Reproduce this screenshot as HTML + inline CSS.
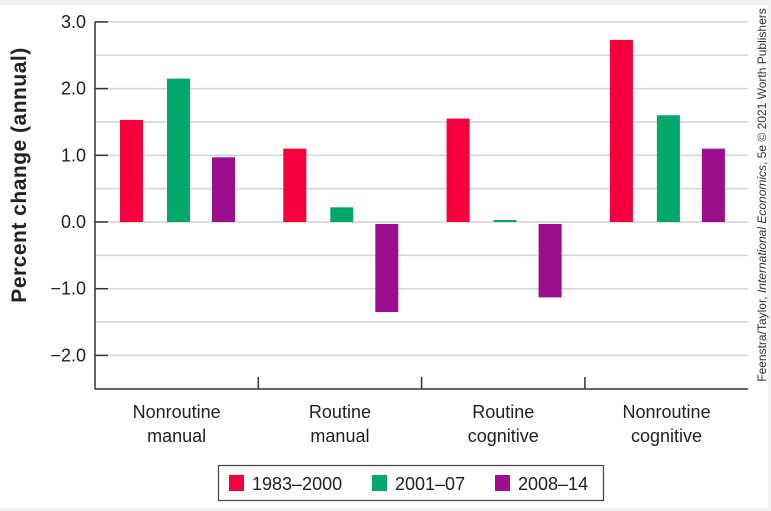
<!DOCTYPE html>
<html><head><meta charset="utf-8"><style>
html,body{margin:0;padding:0;background:#fff;}
svg{display:block;font-family:"Liberation Sans",sans-serif;}
</style></head><body>
<svg width="771" height="511" viewBox="0 0 771 511">
<rect x="0" y="0" width="771" height="511" fill="#f1f1f1"/>
<rect x="0" y="5" width="768" height="503" fill="#fff"/>
<g id="grid"></g>
<g id="yticks"></g>
<g id="bars"></g>
<line x1="95" y1="22" x2="95" y2="389.5" stroke="#333" stroke-width="1.5"/>
<line x1="95" y1="389" x2="748" y2="389" stroke="#333" stroke-width="1.5"/>
<g id="xlabels"></g>
<text transform="translate(26,175) rotate(-90)" text-anchor="middle" font-size="21" font-weight="bold" letter-spacing="0.5" fill="#222">Percent change (annual)</text>
<text transform="translate(766,195) rotate(-90)" text-anchor="middle" font-size="12" fill="#333">Feenstra/Taylor, <tspan font-style="italic">International Economics</tspan>, 5e © 2021 Worth Publishers</text>
<g>
<rect x="218.5" y="465.5" width="385" height="35" fill="#fff" stroke="#444" stroke-width="1.2"/>
<rect x="229" y="475" width="15" height="16" fill="#f5003d"/>
<text x="252" y="490" font-size="18" fill="#222">1983–2000</text>
<rect x="372" y="475" width="15" height="16" fill="#00a86b"/>
<text x="395" y="490" font-size="18" fill="#222">2001–07</text>
<rect x="495" y="475" width="15" height="16" fill="#9b0f8e"/>
<text x="518" y="490" font-size="18" fill="#222">2008–14</text>
</g>
</svg>
<script>
const categories1 = ["Nonroutine","Routine","Routine","Nonroutine"];
const categories2 = ["manual","manual","cognitive","cognitive"];
const series1983 = [1.53, 1.10, 1.55, 2.73];
const series2001 = [2.15, 0.22, 0.03, 1.60];
const series2008 = [0.97, -1.35, -1.13, 1.10];
const yTicks = [3, 2, 1, 0, -1, -2];
const yTickLabels = ["3.0","2.0","1.0","0.0","\u22121.0","\u22122.0"];
const gridVals = [3, 2.5, 2, 1.5, 1, 0.5, 0, -0.5, -1, -1.5, -2];

const NS = "http://www.w3.org/2000/svg";
function y(v){ return 222 - v * 66.7; }
const x0 = 95, catW = 163.3;
function mk(tag, attrs, parent){ const e = document.createElementNS(NS, tag); for (const k in attrs) e.setAttribute(k, attrs[k]); parent.appendChild(e); return e; }
const grid = document.getElementById('grid');
gridVals.forEach(v => {
  const l = mk('line', {x1: 95, x2: 748, y1: y(v), y2: y(v), stroke: '#d4d4d4', 'stroke-width': 1.5}, grid);
  
  
});
const yt = document.getElementById('yticks');
yTicks.forEach((v, i) => {
  const l = mk('line', {x1: 95, x2: 108, y1: y(v), y2: y(v), stroke: '#333', 'stroke-width': 1.5}, yt);
  
  
  const t = mk('text', {x: 86, y: y(v) + 6, 'text-anchor': 'end', 'font-size': 18, fill: '#222'}, yt);
  t.textContent = yTickLabels[i];
  
  
});
const bars = document.getElementById('bars');
const series = [series1983, series2001, series2008];
const colors = ['#f5003d', '#00a86b', '#9b0f8e'];
const offs = [25, 72, 117];
const names = ['1983-2000', '2001-07', '2008-14'];
categories1.forEach((c, ci) => {
  series.forEach((s, si) => {
    const v = s[ci];
    const top = v >= 0 ? y(v) : y(0) + 2;
    const h = v >= 0 ? y(0) - y(v) : y(v) - y(0) - 2;
    const r = mk('rect', {x: x0 + ci * catW + offs[si], y: top, width: 23, height: Math.max(h, 1), fill: colors[si]}, bars);
    
    
  });
});
const xl = document.getElementById('xlabels');
categories1.forEach((c, ci) => {
  const cx = x0 + ci * catW + catW / 2;
  if (ci > 0) {
    const l = mk('line', {x1: x0 + ci * catW, x2: x0 + ci * catW, y1: 377, y2: 389, stroke: '#333', 'stroke-width': 1.5}, xl);
    
    
  }
  const t1 = mk('text', {x: cx, y: 418, 'text-anchor': 'middle', 'font-size': 18, fill: '#222'}, xl);
  t1.textContent = c;
  
  
  const t2 = mk('text', {x: cx, y: 442, 'text-anchor': 'middle', 'font-size': 18, fill: '#222'}, xl);
  t2.textContent = categories2[ci];
  
  
});
</script>
</body></html>
